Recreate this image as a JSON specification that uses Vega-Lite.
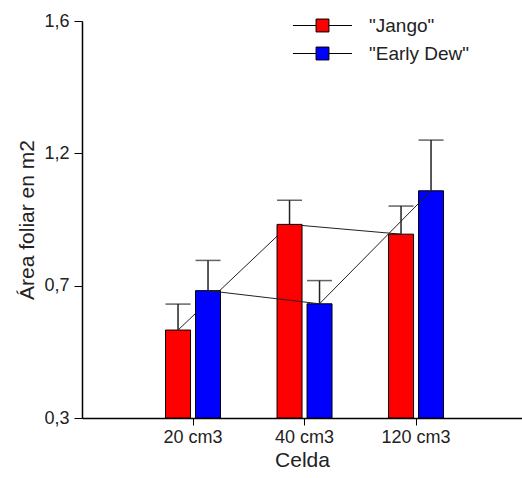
{
  "$schema": "https://vega.github.io/schema/vega-lite/v6.json",
  "width": 440,
  "height": 397,
  "autosize": {"type": "none"},
  "padding": {"left": 82, "top": 21, "right": 0, "bottom": 60},
  "background": "white",
  "config": {
    "view": {"stroke": null},
    "font": "Liberation Sans",
    "axis": {"grid": false, "domainColor": "black", "tickColor": "black", "labelColor": "#222", "titleColor": "#222", "titleFontWeight": "normal", "labelFont": "Liberation Sans", "titleFont": "Liberation Sans"}
  },
  "data": {
    "values": [
      {"celda": "20 cm3", "variedad": "Jango", "area": 0.588, "err": 0.673},
      {"celda": "20 cm3", "variedad": "Early Dew", "area": 0.717, "err": 0.816},
      {"celda": "40 cm3", "variedad": "Jango", "area": 0.934, "err": 1.013},
      {"celda": "40 cm3", "variedad": "Early Dew", "area": 0.674, "err": 0.750},
      {"celda": "120 cm3", "variedad": "Jango", "area": 0.902, "err": 0.994},
      {"celda": "120 cm3", "variedad": "Early Dew", "area": 1.044, "err": 1.210}
    ]
  },
  "encoding": {
    "x": {
      "field": "celda", "type": "nominal",
      "sort": ["20 cm3", "40 cm3", "120 cm3"],
      "scale": {"paddingInner": 0, "paddingOuter": 0.473, "align": 0.524},
      "axis": {"title": "Celda", "labelAngle": 0, "labelFontSize": 18, "titleFontSize": 21, "tickSize": 7, "labelPadding": 3, "titlePadding": 3, "domainWidth": 1.5}
    },
    "xOffset": {
      "field": "variedad", "type": "nominal",
      "sort": ["Jango", "Early Dew"],
      "scale": {"paddingInner": 0.167, "paddingOuter": 0.942}
    }
  },
  "layer": [
    {
      "transform": [{"filter": "datum.variedad == 'Jango'"}],
      "mark": {"type": "line", "color": "#222", "strokeWidth": 1},
      "encoding": {
        "y": {"field": "area", "type": "quantitative"}
      }
    },
    {
      "mark": {"type": "bar", "stroke": "black", "strokeWidth": 1},
      "encoding": {
        "y": {
          "field": "area", "type": "quantitative",
          "scale": {"domain": [0.3, 1.6], "nice": false, "zero": false},
          "axis": {
            "title": "Área foliar en m2",
            "values": [0.3, 0.73333, 1.16667, 1.6],
            "labelExpr": "replace(format(datum.value, '.1f'), '.', ',')",
            "labelFontSize": 18, "titleFontSize": 21, "tickSize": 8, "labelPadding": 5, "titlePadding": 6, "domainWidth": 1.5
          }
        },
        "y2": {"datum": 0.3},
        "color": {
          "field": "variedad", "type": "nominal",
          "scale": {"domain": ["Jango", "Early Dew"], "range": ["#ff0000", "#0000ff"]},
          "legend": {
            "orient": "none", "legendX": 225, "legendY": -11,
            "title": null,
            "symbolType": "M-1.97,0H-0.43M0.43,0H1.97M-0.43,-0.43H0.43V0.43H-0.43Z",
            "symbolSize": 900,
            "symbolStrokeColor": "black",
            "symbolStrokeWidth": 1,
            "symbolOpacity": 1,
            "labelFontSize": 19,
            "labelColor": "#222",
            "labelOffset": 31,
            "rowPadding": 2,
            "labelExpr": "'\"' + datum.label + '\"'"
          }
        }
      }
    },
    {
      "mark": {"type": "rule", "color": "#222", "strokeWidth": 1.5},
      "encoding": {
        "y": {"field": "area", "type": "quantitative"},
        "y2": {"field": "err"}
      }
    },
    {
      "mark": {"type": "tick", "color": "#222", "thickness": 1.5, "size": 25, "orient": "horizontal"},
      "encoding": {
        "y": {"field": "err", "type": "quantitative"}
      }
    },
    {
      "transform": [{"filter": "datum.variedad == 'Early Dew'"}],
      "mark": {"type": "line", "color": "#222", "strokeWidth": 1},
      "encoding": {
        "y": {"field": "area", "type": "quantitative"}
      }
    }
  ]
}
